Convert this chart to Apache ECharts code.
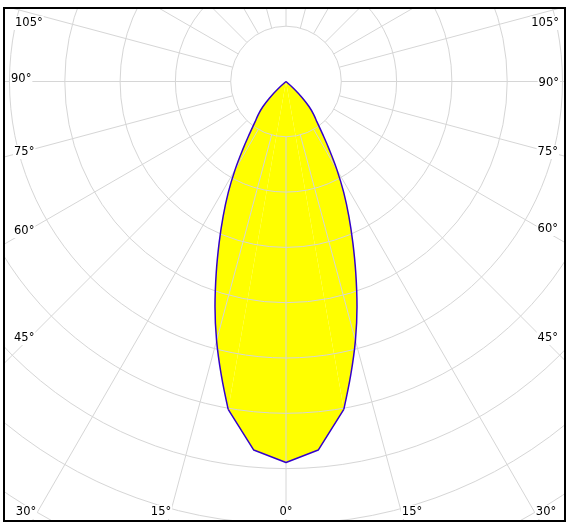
<!DOCTYPE html>
<html lang="zh-CN">
<head>
    <meta charset="UTF-8">
    <title>配光曲线</title>
    <script src="https://cdn.jsdelivr.net/npm/echarts@6/dist/echarts.min.js"></script>
    <style>
        * {
            margin: 0px;
            padding: 0px;
        }
        body {
            background-color: #fff;
        }
        #main {
            width: 574px;
            height: 528px;
        }
    </style>
</head>

<body>
    <div id="main"></div>
</body>

<script>
    // 角度 (°)，0° 朝下，左右对称
    var angles = [0, 5, 10, 12.5, 15, 17.5, 20, 22.5, 25, 27.5, 30, 32.5, 35, 37.5, 40, 42.5, 45, 47.5, 50];
    // 光强，以同心圆格数为单位
    var intensity = [6.89, 6.69, 6.02, 5.42, 4.85, 4.27, 3.69, 3.16, 2.69, 2.26, 1.84, 1.45, 1.14, 0.92, 0.78, 0.62, 0.42, 0.2, 0];
    // 刻度文字
    var sideLabels = ['105°', '90°', '75°', '60°', '45°'];
    var bottomLabels = ['30°', '15°', '0°', '15°', '30°'];

    var cx = 286, cy = 81.5;   // 极坐标中心
    var ring = 55.3;           // 每圈的像素
    var rings = 10;
    var knee = 10;             // 这个角度以下是折线，以上是平滑曲线

    // 右边用负角度，左边正角度
    var lower = [], upperRight = [], upperLeft = [];
    for (let i = angles.length - 1; i >= 0; i--) {
        if (angles[i] <= knee) lower.push([intensity[i], -angles[i]]);
    }
    for (let i = 1; i < angles.length; i++) {
        if (angles[i] <= knee) lower.push([intensity[i], angles[i]]);
    }
    for (let i = 0; i < angles.length; i++) {
        if (angles[i] >= knee) {
            upperRight.push([intensity[i], -angles[i]]);
            upperLeft.push([intensity[i], angles[i]]);
        }
    }

    // 文字位置
    var leftPos = [[14, 23], [10, 79], [13, 152], [13, 231], [13, 338]];
    var rightPos = [[560, 23], [560, 83], [559, 152], [559, 229], [559, 338]];
    var bottomPos = [26, 161, 286, 412, 546];

    var texts = [];
    function addText(str, x, y, align) {
        texts.push({
            type: 'text',
            z: 20,
            silent: true,
            style: {
                text: str,
                x: x,
                y: y,
                align: align,
                verticalAlign: 'middle',
                fontSize: 11.5,
                fontFamily: 'DejaVu Sans',
                fill: '#000',
                backgroundColor: '#fff',
                padding: [1, 1]
            }
        });
    }
    for (let i = 0; i < sideLabels.length; i++) {
        addText(sideLabels[i], leftPos[i][0], leftPos[i][1], 'left');
        addText(sideLabels[i], rightPos[i][0], rightPos[i][1], 'right');
    }
    for (let i = 0; i < bottomLabels.length; i++) {
        addText(bottomLabels[i], bottomPos[i], 512, 'center');
    }

    var myChart = echarts.init(document.getElementById('main'), null, { renderer: 'canvas' });

    var gridLine = { show: true, lineStyle: { color: '#d6d6d6', width: 1 } };
    var hidden = { show: false };

    // 填充和轮廓
    function fill(data, smooth) {
        return {
            type: 'line', coordinateSystem: 'polar', polarIndex: 1,
            data: data, symbol: 'none', smooth: smooth, z: 1, silent: true,
            lineStyle: { opacity: 0 },
            areaStyle: { color: '#ffff00', opacity: 1 }
        };
    }
    function outline(data, smooth) {
        return {
            type: 'line', coordinateSystem: 'polar', polarIndex: 1,
            data: data, symbol: 'none', smooth: smooth, z: 5, silent: true,
            lineStyle: { color: '#3300cc', width: 1.5 }
        };
    }

    var option = {
        backgroundColor: '#fff',
        animation: false,
        polar: [
            { center: [cx, cy], radius: [ring, ring * rings] },  // 网格（中间留空）
            { center: [cx, cy], radius: [0, ring * rings] }      // 曲线
        ],
        angleAxis: [
            {
                polarIndex: 0, type: 'value', min: 0, max: 360, interval: 15,
                startAngle: 270, z: 3,
                axisLine: hidden, axisTick: hidden, axisLabel: hidden,
                splitLine: gridLine
            },
            {
                polarIndex: 1, type: 'value', min: -180, max: 180,
                startAngle: 90, clockwise: true,
                axisLine: hidden, axisTick: hidden, axisLabel: hidden, splitLine: hidden
            }
        ],
        radiusAxis: [
            {
                polarIndex: 0, type: 'value', min: 1, max: rings, interval: 1, z: 3,
                axisLine: hidden, axisTick: hidden, axisLabel: hidden,
                splitLine: gridLine
            },
            {
                polarIndex: 1, type: 'value', min: 0, max: rings,
                axisLine: hidden, axisTick: hidden, axisLabel: hidden, splitLine: hidden
            }
        ],
        series: [
            fill(lower, false),
            fill(upperRight, 0.4),
            fill(upperLeft, 0.4),
            outline(lower, false),
            outline(upperRight, 0.4),
            outline(upperLeft, 0.4)
        ],
        graphic: [
            // 边框外面盖白
            { type: 'rect', z: 10, silent: true, shape: { x: 0, y: 0, width: 574, height: 7 }, style: { fill: '#fff' } },
            { type: 'rect', z: 10, silent: true, shape: { x: 0, y: 0, width: 3, height: 528 }, style: { fill: '#fff' } },
            { type: 'rect', z: 10, silent: true, shape: { x: 566, y: 0, width: 8, height: 528 }, style: { fill: '#fff' } },
            { type: 'rect', z: 10, silent: true, shape: { x: 0, y: 522, width: 574, height: 6 }, style: { fill: '#fff' } },
            // 黑色边框
            { type: 'rect', z: 11, silent: true, shape: { x: 4, y: 8, width: 561, height: 513 }, style: { fill: 'none', stroke: '#000', lineWidth: 2 } }
        ].concat(texts)
    };

    myChart.setOption(option);
</script>
</html>
